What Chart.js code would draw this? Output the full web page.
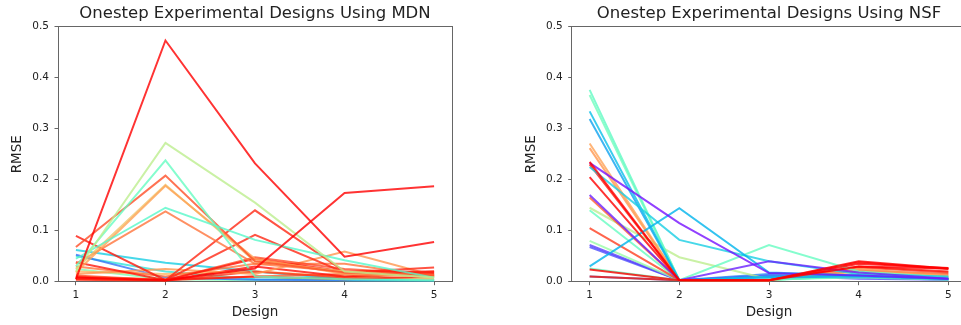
<!DOCTYPE html>
<html>
<head>
<meta charset="utf-8">
<script src="https://cdn.jsdelivr.net/npm/chart.js@4/dist/chart.umd.min.js"></script>
<style>
  html, body { margin: 0; padding: 0; background: #fff; overflow: hidden; }
  body { width: 961px; height: 325px; position: relative; }
  canvas { position: absolute; top: 0; }
  #chart-mdn { left: 0; }
  #chart-nsf { left: 480px; }
</style>
</head>
<body>
<canvas id="chart-mdn" width="480" height="325"></canvas>
<canvas id="chart-nsf" width="500" height="325"></canvas>
<script>
  'use strict';

  // ===========================================================================
  // DATA
  // ===========================================================================

  const designs = [1, 2, 3, 4, 5];
  const yTickValues = [0, 0.1, 0.2, 0.3, 0.4, 0.5];

  // Position of each run on the rainbow colormap (0 = purple, 1 = red).
  const mdnShade = [0.5, 0.35, 0.15, 0.3, 0.75, 0.88, 0.93, 0.98, 0.8, 0.85, 0.9,
    0.97, 0.95, 0.95, 0.97, 0.85, 0.72, 0.78, 0.9, 0.42, 0.45, 0.62, 1.0, 1.0];

  // RMSE of each run at designs 1..5.
  const mdnRmse = [
    [0.025, 0.005, 0.003, 0.010, 0.005],
    [0.050, 0.020, 0.005, 0.003, 0.002],
    [0.053, 0.008, 0.004, 0.003, 0.003],
    [0.062, 0.037, 0.020, 0.005, 0.004],
    [0.020, 0.015, 0.020, 0.010, 0.005],
    [0.008, 0.005, 0.010, 0.015, 0.012],
    [0.004, 0.002, 0.020, 0.008, 0.016],
    [0.010, 0.003, 0.030, 0.010, 0.020],
    [0.015, 0.025, 0.015, 0.059, 0.012],
    [0.030, 0.010, 0.035, 0.035, 0.010],
    [0.012, 0.003, 0.048, 0.025, 0.015],
    [0.038, 0.003, 0.045, 0.020, 0.018],
    [0.006, 0.003, 0.092, 0.018, 0.028],
    [0.005, 0.003, 0.140, 0.020, 0.020],
    [0.090, 0.003, 0.010, 0.005, 0.010],
    [0.035, 0.138, 0.035, 0.020, 0.012],
    [0.025, 0.190, 0.040, 0.020, 0.008],
    [0.018, 0.188, 0.045, 0.015, 0.010],
    [0.068, 0.208, 0.040, 0.018, 0.012],
    [0.045, 0.145, 0.082, 0.042, 0.008],
    [0.030, 0.238, 0.010, 0.005, 0.003],
    [0.020, 0.272, 0.155, 0.020, 0.008],
    [0.008, 0.003, 0.026, 0.174, 0.187],
    [0.005, 0.473, 0.232, 0.049, 0.078],
  ];

  const nsfShade = [0.18, 0.1, 0.08, 0.55, 0.45, 0.62, 0.88, 0.92, 0.98, 0.97, 0.8,
    0.78, 0.45, 0.47, 0.44, 0.22, 0.27, 0.3, 0.25, 0.02, 0.04, 1.0, 1.0, 1.0];

  const nsfRmse = [
    [0.010, 0.003, 0.015, 0.010, 0.005],
    [0.068, 0.003, 0.012, 0.006, 0.004],
    [0.072, 0.003, 0.010, 0.008, 0.004],
    [0.080, 0.003, 0.003, 0.015, 0.008],
    [0.140, 0.003, 0.003, 0.012, 0.006],
    [0.145, 0.048, 0.005, 0.010, 0.005],
    [0.165, 0.003, 0.003, 0.022, 0.015],
    [0.105, 0.003, 0.003, 0.028, 0.018],
    [0.010, 0.003, 0.003, 0.038, 0.025],
    [0.230, 0.003, 0.003, 0.030, 0.020],
    [0.262, 0.003, 0.003, 0.025, 0.012],
    [0.271, 0.003, 0.003, 0.020, 0.010],
    [0.026, 0.003, 0.072, 0.020, 0.008],
    [0.366, 0.003, 0.005, 0.008, 0.004],
    [0.376, 0.003, 0.004, 0.010, 0.005],
    [0.319, 0.003, 0.008, 0.010, 0.005],
    [0.334, 0.003, 0.010, 0.012, 0.006],
    [0.225, 0.082, 0.040, 0.015, 0.010],
    [0.030, 0.144, 0.018, 0.012, 0.006],
    [0.233, 0.115, 0.017, 0.012, 0.006],
    [0.170, 0.003, 0.040, 0.018, 0.006],
    [0.024, 0.003, 0.003, 0.030, 0.026],
    [0.205, 0.003, 0.003, 0.040, 0.026],
    [0.235, 0.003, 0.003, 0.035, 0.027],
  ];

  // ===========================================================================
  // HELPERS
  // ===========================================================================

  const FONT = 'DejaVu Sans';
  const TEXT = '#222';
  const SPINE = '#666';

  Chart.defaults.font.family = FONT;

  // Matplotlib "rainbow" colormap.
  function rainbow(c, alpha) {
    const r = Math.min(1, Math.abs(2 * c - 0.5));
    const g = Math.sin(Math.PI * c);
    const b = Math.max(0, Math.cos(Math.PI * c / 2));
    return `rgba(${Math.round(r * 255)}, ${Math.round(g * 255)}, ${Math.round(b * 255)}, ${alpha})`;
  }

  function buildDatasets(shades, runs) {
    return runs.map((run, i) => ({
      data: run.map((v, k) => ({ x: designs[k], y: v })),
      borderColor: rainbow(shades[i], 0.8),
      borderWidth: 2,
      pointRadius: 0,
      tension: 0,
      fill: false,
      order: runs.length - i,
    }));
  }

  function renderChart(canvasId, title, shades, runs, geom) {
    const ctx = document.getElementById(canvasId);
    if (!ctx) return;

    const tickFont = { family: FONT, size: 10.5 };
    const labelFont = { family: FONT, size: 13.5 };

    new Chart(ctx, {
      type: 'line',
      data: { datasets: buildDatasets(shades, runs) },
      options: {
        responsive: false,
        animation: false,
        devicePixelRatio: 1,
        layout: { padding: { left: 0, right: geom.rightPad, top: 0, bottom: 0 } },
        plugins: {
          legend: { display: false },
          tooltip: { enabled: false },
          title: {
            display: true,
            text: title,
            fullSize: false,
            color: TEXT,
            font: { family: FONT, size: 16.5, weight: 'normal' },
            padding: { top: 3.7, bottom: 3.2 },
          },
        },
        scales: {
          x: {
            type: 'linear',
            position: 'bottom',
            min: 0.8,
            max: 5.2,
            afterBuildTicks: s => { s.ticks = designs.map(v => ({ value: v })); },
            afterFit: s => { s.height = 43.3; },
            ticks: { color: TEXT, font: tickFont, padding: 4.2, maxRotation: 0, callback: v => String(v) },
            grid: { drawOnChartArea: false, drawTicks: true, tickLength: 3.5, color: SPINE },
            border: { color: SPINE, width: 1 },
            title: { display: true, text: 'Design', color: TEXT, font: labelFont, padding: { top: 0, bottom: 4.6 } },
          },
          y: {
            type: 'linear',
            position: 'left',
            min: 0,
            max: 0.5,
            afterBuildTicks: s => { s.ticks = yTickValues.map(v => ({ value: v })); },
            afterFit: s => { s.width = geom.yWidth; },
            ticks: { color: TEXT, font: tickFont, padding: 5.5, callback: v => v.toFixed(1) },
            grid: { drawOnChartArea: false, drawTicks: true, tickLength: 3.5, color: SPINE },
            border: { color: SPINE, width: 1 },
            title: { display: true, text: 'RMSE', color: TEXT, font: labelFont, padding: { top: geom.yTitlePad, bottom: 0 } },
          },
          x2: {
            type: 'linear',
            position: 'top',
            ticks: { display: false },
            grid: { drawOnChartArea: false, drawTicks: false },
            border: { color: SPINE, width: 1 },
            afterFit: s => { s.height = 0; },
          },
          y2: {
            type: 'linear',
            position: 'right',
            ticks: { display: false },
            grid: { drawOnChartArea: false, drawTicks: false },
            border: { color: SPINE, width: 1 },
            afterFit: s => { s.width = 0; },
          },
        },
      },
    });
  }

  renderChart('chart-mdn', 'Onestep Experimental Designs Using MDN', mdnShade, mdnRmse,
    { yWidth: 58, rightPad: 28, yTitlePad: 9.1 });
  renderChart('chart-nsf', 'Onestep Experimental Designs Using NSF', nsfShade, nsfRmse,
    { yWidth: 91.7, rightPad: 13.7, yTitlePad: 43.1 });
</script>
</body>
</html>
